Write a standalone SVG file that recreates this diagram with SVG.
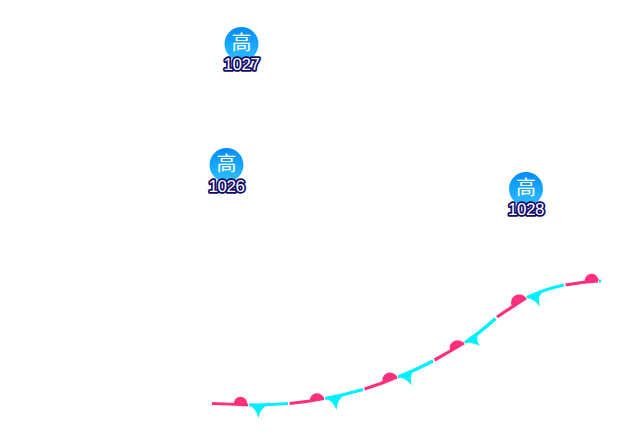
<svg xmlns="http://www.w3.org/2000/svg" width="640" height="440" viewBox="0 0 640 440">
<style>
.badge{fill:url(#g)}
.h{font-family:"Noto Sans CJK SC","Noto Sans",sans-serif;font-size:20px;fill:#fff;text-anchor:middle}
.v{font-family:"Liberation Sans",Arial,sans-serif;font-size:17px;letter-spacing:-.5px;fill:#fff;stroke:#100a68;stroke-width:3.6px;stroke-linejoin:round;paint-order:stroke;text-anchor:middle}
.w{fill:none;stroke-width:3.2}
.p{stroke:#ff2f7e}.c{stroke:#00f0ff}
.pf{fill:#ff2f7e}.cf{fill:#00f0ff}
</style>
<defs><linearGradient id="g" x1="0" y1="0" x2="0" y2="1"><stop offset="0" stop-color="#008cf8"/><stop offset="1" stop-color="#30c0ff"/></linearGradient></defs>
<rect width="640" height="440" fill="#fff"/>
<g id="high-1027"><circle class="badge" cx="241.500" cy="44" r="17"/><text class="h" x="241.500" y="50">高</text><text class="v" x="241.500" y="70">1027</text></g>
<g id="high-1026"><circle class="badge" cx="226.500" cy="165" r="17"/><text class="h" x="226.500" y="171">高</text><text class="v" x="226.500" y="192">1026</text></g>
<g id="high-1028"><circle class="badge" cx="526" cy="189" r="17"/><text class="h" x="526" y="195">高</text><text class="v" x="526" y="215">1028</text></g>
<g id="connectors">
<path class="w p" d="M212 403.500Q230 404 248 405"/>
<path class="pf" d="M234 405A6.700 6.700 0 1 1 247 405.300Z"/>
<path class="w c" d="M249 405Q270 405 288 403.500"/>
<path class="cf" d="M248 404L270 404.500Q260 407 258.500 418Q256 408 248 404Z"/>
<path class="w p" d="M289.500 403.500Q307 402 324 398.500"/>
<path class="pf" d="M310 401.500A7.100 7.100 0 0 1 324 399Z"/>
<path class="w c" d="M325 398.500Q344 395 363 389.500"/>
<path class="cf" d="M325 398L347 393.500Q337 398 336.500 410Q333 401 325 398Z"/>
<path class="w p" d="M364.500 389Q381 384 397 377"/>
<path class="pf" d="M383 383.500A7.450 7.450 0 0 1 397 377Z"/>
<path class="w c" d="M398 377Q416 370 433 361"/>
<path class="cf" d="M397 376.500L417 368Q408 374 412 385.500Q406 378 397 376.500Z"/>
<path class="w p" d="M434.500 360Q449 352 464 343"/>
<path class="pf" d="M450.500 352A8 8 0 0 1 464 343.500Z"/>
<path class="w c" d="M465 342.500Q481 332 495.500 318.500"/>
<path class="cf" d="M464 342.500L483 330Q473 336 480 346Q473 342 464 342.500Z"/>
<path class="w p" d="M497 317Q512 307 526 298"/>
<path class="pf" d="M512 306.500A8.200 8.200 0 0 1 526 298Z"/>
<path class="w c" d="M527 297.500Q545 289 564 285"/>
<path class="cf" d="M526 297.500L546 289.500Q536 295 540 307Q535 299 526 297.500Z"/>
<path class="w p" d="M565.500 285Q582 282 598 281"/>
<path class="pf" d="M585 282.500A6.900 6.900 0 1 1 598.500 281.500Z"/>
<path class="w c" d="M599 281.200L601 281"/>
</g>
</svg>
